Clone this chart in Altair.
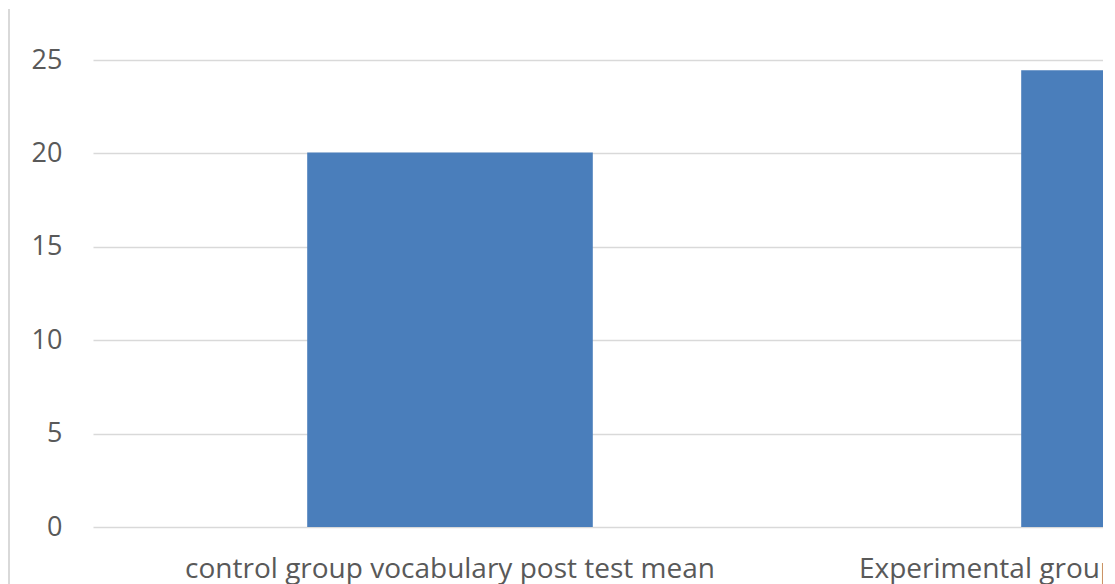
import altair as alt
import pandas as pd

categories = [
    "control group vocabulary post test mean",
    "Experimental group vocabulary post test mean",
]
values = [20.05, 24.45]
y_ticks = [0, 5, 10, 15, 20, 25]

df = pd.DataFrame({"group": categories, "mean": values})

FONT = "Open Sans"
TXT = "#595959"
GRID = "#D9D9D9"

base = alt.Chart(df)

bars = base.mark_bar(color="#4A7EBB", clip=True).encode(
    x=alt.X(
        "group:N",
        sort=categories,
        title=None,
        scale=alt.Scale(range=[3, 1431], paddingInner=0.6, paddingOuter=0.3),
        axis=alt.Axis(
            labelAngle=0,
            labelFont=FONT,
            labelFontSize=28,
            labelColor=TXT,
            labelPadding=28,
            labelLimit=2000,
            labelOverlap=False,
            ticks=False,
            domain=False,
            grid=False,
        ),
    ),
    y=alt.Y(
        "mean:Q",
        title=None,
        scale=alt.Scale(domain=[0, 25], nice=False),
        axis=alt.Axis(
            values=y_ticks,
            labelFont=FONT,
            labelFontSize=27,
            labelColor=TXT,
            labelPadding=28,
            ticks=False,
            domain=False,
            grid=True,
            gridColor=GRID,
            gridWidth=1.5,
        ),
    ),
)

border = alt.Chart(pd.DataFrame({"k": [0]})).mark_rule(color=GRID, strokeWidth=2).encode(
    x=alt.value(-81),
    y=alt.value(-51),
    y2=alt.value(530),
)

chart = (
    alt.layer(border, bars)
    .properties(
        width=1013,
        height=467,
        background="white",
        autosize=alt.AutoSizeParams(type="none"),
        padding={"left": 82, "top": 52, "right": 0, "bottom": 57},
    )
    .configure_view(stroke="transparent")
    .configure_axis(domain=False)
)

chart.save("out.html", embed_options={"renderer": "svg", "actions": False})
